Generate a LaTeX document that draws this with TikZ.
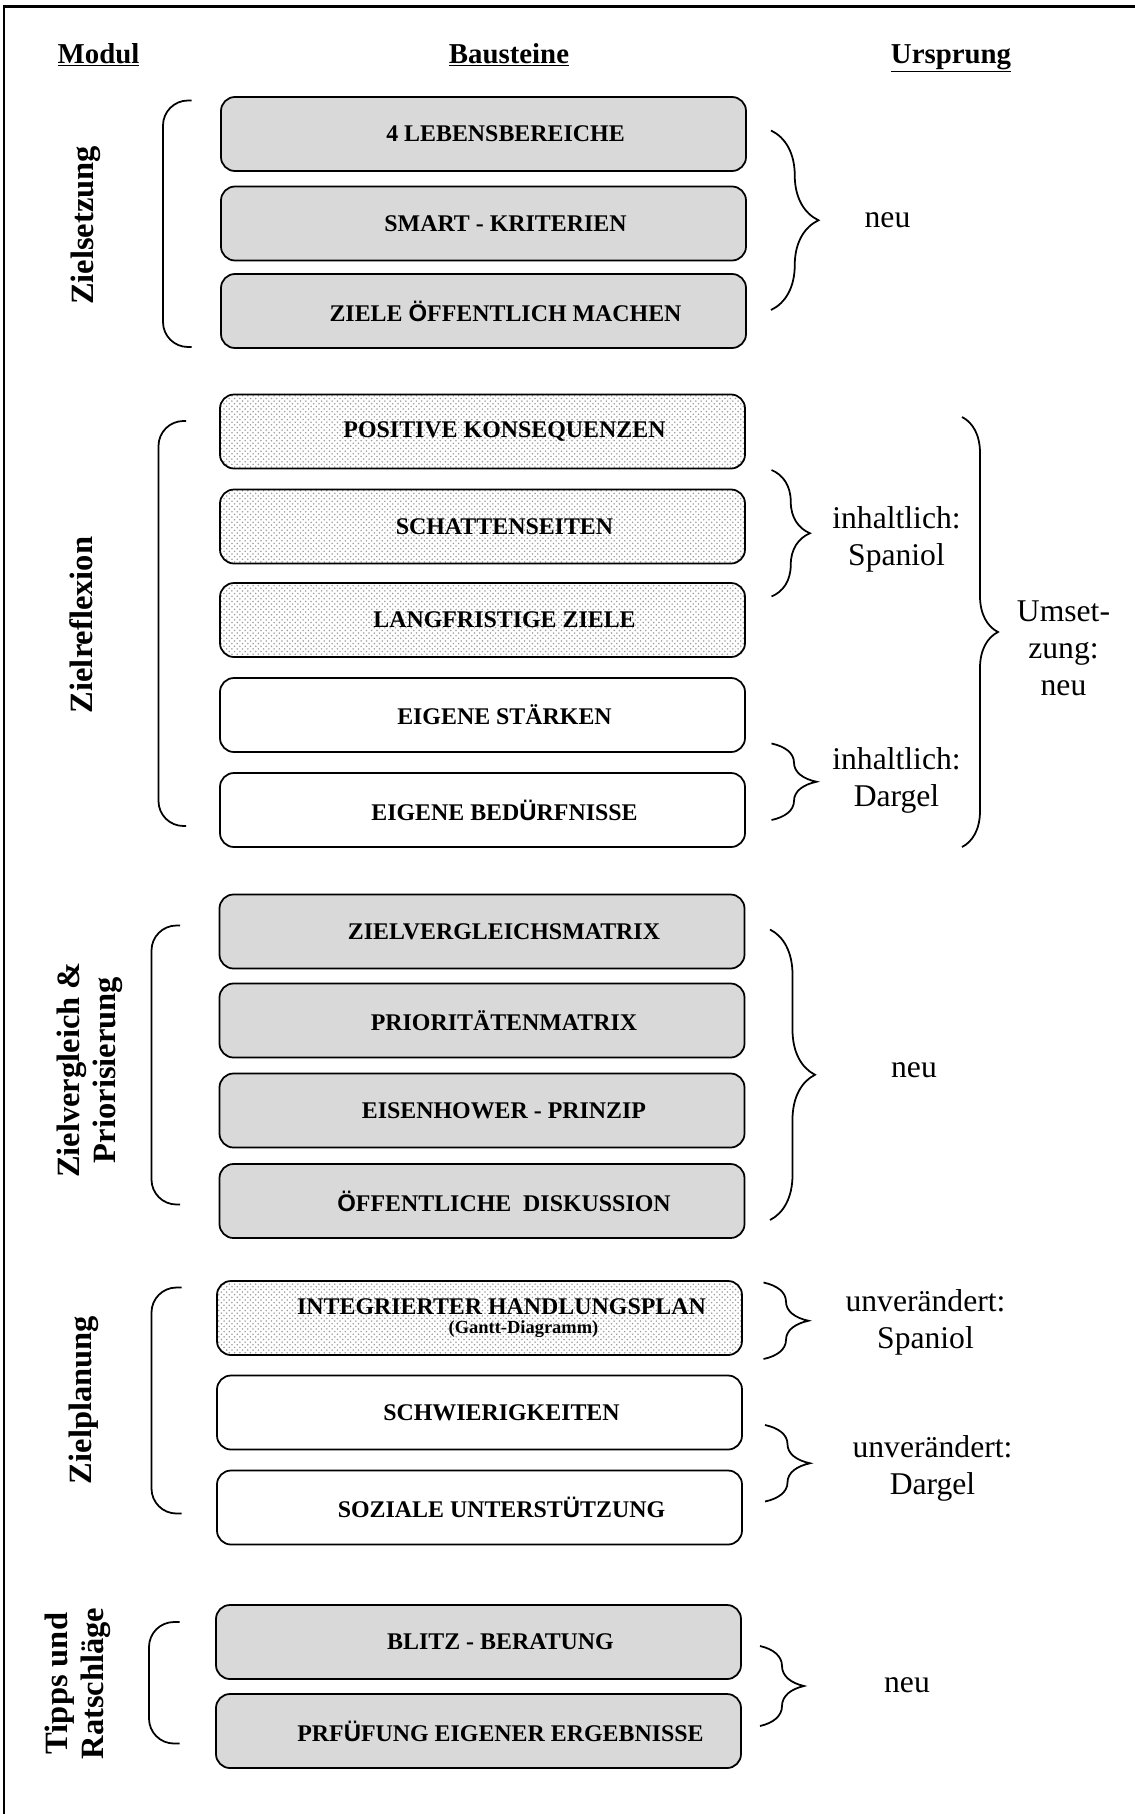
\documentclass[tikz,border=0pt]{standalone}
\usepackage{fontspec}
\setmainfont{Liberation Serif}
\newfontfamily\arialfont{Liberation Sans}
\usetikzlibrary{decorations.pathreplacing}
\usetikzlibrary{patterns}

\newcommand{\sans}[1]{{\arialfont #1}}

\begin{document}
\begin{tikzpicture}[
        line width=1pt,
        baustein/.style={draw, rounded corners=0.28cm, minimum width=10.5cm,
                         minimum height=1.48cm, align=center,
                         font=\fontsize{13.6}{15}\selectfont\bfseries,
                         execute at begin node={\hspace*{0.88cm}}},
        grau/.style={baustein, fill=gray!30},
        punkte/.style={baustein, pattern=crosshatch dots, pattern color=gray!75},
        weiss/.style={baustein, fill=white},
        kopf/.style={anchor=base, font=\fontsize{16.4}{19}\selectfont\bfseries},
        modul/.style={rotate=90, align=center,
                      font=\fontsize{18.5}{20.5}\selectfont\bfseries},
        herkunft/.style={align=center, font=\fontsize{18}{21}\selectfont},
        klammer/.style={decorate, decoration={brace, amplitude=#1}},
        klammer/.default=0.8cm,
        rahmen/.style={rounded corners=0.5cm},
    ]
    \useasboundingbox (0cm, 0cm) rectangle (22.7cm, -36.28cm);
    \draw[line width=1.2pt] (0.08cm, -36.28cm) -- (0.08cm, -0.13cm) -- (22.7cm, -0.13cm);

    % column heads
    \node[kopf] (modul) at (1.97cm, -1.26cm) {\underline{Modul}};
    \node[kopf] (bausteine) at (10.18cm, -1.26cm) {\underline{Bausteine}};
    \node[kopf] (ursprung) at (19.02cm, -1.26cm) {\underline{Ursprung}};

    % Zielsetzung
    \node[grau] (lebensbereiche) at (9.67cm, -2.68cm) {4 LEBENSBEREICHE};
    \node[grau] (smart) at (9.67cm, -4.47cm) {SMART - KRITERIEN};
    \node[grau] (oeffentlich) at (9.67cm, -6.22cm) {ZIELE \sans{Ö}FFENTLICH MACHEN};
    \node[modul] (zielsetzung) at (1.72cm, -4.51cm) {Zielsetzung};
    \draw[rahmen] (3.83cm, -2.01cm) -- (3.26cm, -2.01cm) -- (3.26cm, -6.94cm) -- (3.83cm, -6.94cm);
    \draw[klammer=0.95cm] (15.42cm, -2.61cm) -- (15.42cm, -6.20cm);
    \node[herkunft] (neu1) at (17.75cm, -4.40cm) {neu};

    % Zielreflexion
    \node[punkte] (positiv) at (9.65cm, -8.63cm) {POSITIVE KONSEQUENZEN};
    \node[punkte] (schatten) at (9.65cm, -10.53cm) {SCHATTENSEITEN};
    \node[punkte] (langfristig) at (9.65cm, -12.40cm) {LANGFRISTIGE ZIELE};
    \node[weiss] (staerken) at (9.65cm, -14.30cm) {EIGENE STÄRKEN};
    \node[weiss] (beduerfnisse) at (9.65cm, -16.20cm) {EIGENE BED\sans{Ü}RFNISSE};
    \node[modul] (zielreflexion) at (1.62cm, -12.50cm) {Zielreflexion};
    \draw[rahmen] (3.72cm, -8.42cm) -- (3.17cm, -8.42cm) -- (3.17cm, -16.52cm) -- (3.72cm, -16.52cm);
    \draw[klammer=0.77cm] (15.43cm, -9.40cm) -- (15.43cm, -11.93cm);
    \node[herkunft] (spaniol1) at (17.93cm, -10.78cm) {inhaltlich:\\Spaniol};
    \draw[klammer=0.9cm] (15.43cm, -14.87cm) -- (15.43cm, -16.40cm);
    \node[herkunft] (dargel1) at (17.93cm, -15.60cm) {inhaltlich:\\Dargel};
    \draw[klammer=0.72cm] (19.24cm, -8.34cm) -- (19.24cm, -16.94cm);
    \node[herkunft] (umsetzung) at (21.27cm, -12.97cm) {Umset-\\zung:\\neu};

    % Zielvergleich & Priorisierung
    \node[grau] (vergleich) at (9.64cm, -18.63cm) {ZIELVERGLEICHSMATRIX};
    \node[grau] (prioritaet) at (9.64cm, -20.41cm) {PRIORITÄTENMATRIX};
    \node[grau] (eisenhower) at (9.64cm, -22.21cm) {EISENHOWER - PRINZIP};
    \node[grau] (diskussion) at (9.64cm, -24.02cm) {\sans{Ö}FFENTLICHE\ \ DISKUSSION};
    \node[modul] (zielvergleich) at (1.80cm, -21.40cm) {Zielvergleich \&\\Priorisierung};
    \draw[rahmen] (3.60cm, -18.51cm) -- (3.03cm, -18.51cm) -- (3.03cm, -24.09cm) -- (3.60cm, -24.09cm);
    \draw[klammer=0.9cm] (15.40cm, -18.59cm) -- (15.40cm, -24.40cm);
    \node[herkunft] (neu2) at (18.28cm, -21.40cm) {neu};

    % Zielplanung
    \node[punkte] (handlungsplan) at (9.59cm, -26.36cm)
        {INTEGRIERTER HANDLUNGSPLAN\\[-4pt]\hspace*{0.88cm}{\fontsize{10.5}{12}\selectfont (Gantt-Diagramm)}};
    \node[weiss] (schwierig) at (9.59cm, -28.25cm) {SCHWIERIGKEITEN};
    \node[weiss] (unterstuetzung) at (9.59cm, -30.15cm) {SOZIALE UNTERST\sans{Ü}TZUNG};
    \node[modul] (zielplanung) at (1.67cm, -28.00cm) {Zielplanung};
    \draw[rahmen] (3.63cm, -25.75cm) -- (3.03cm, -25.75cm) -- (3.03cm, -30.27cm) -- (3.63cm, -30.27cm);
    \draw[klammer=0.9cm] (15.27cm, -25.65cm) -- (15.27cm, -27.18cm);
    \node[herkunft] (spaniol2) at (18.51cm, -26.45cm) {unverändert:\\Spaniol};
    \draw[klammer=0.9cm] (15.30cm, -28.50cm) -- (15.30cm, -30.03cm);
    \node[herkunft] (dargel2) at (18.65cm, -29.37cm) {unverändert:\\Dargel};

    % Tipps und Ratschlaege
    \node[grau] (blitz) at (9.57cm, -32.84cm) {BLITZ - BERATUNG};
    \node[grau] (pruefung) at (9.57cm, -34.62cm) {PRF\sans{Ü}FUNG EIGENER ERGEBNISSE};
    \node[modul] (tipps) at (1.55cm, -33.67cm) {Tipps und\\Ratschläge};
    \draw[rahmen] (3.59cm, -32.44cm) -- (2.98cm, -32.44cm) -- (2.98cm, -34.87cm) -- (3.59cm, -34.87cm);
    \draw[klammer=0.88cm] (15.20cm, -32.92cm) -- (15.20cm, -34.52cm);
    \node[herkunft] (neu3) at (18.14cm, -33.70cm) {neu};

\end{tikzpicture}
\end{document}
